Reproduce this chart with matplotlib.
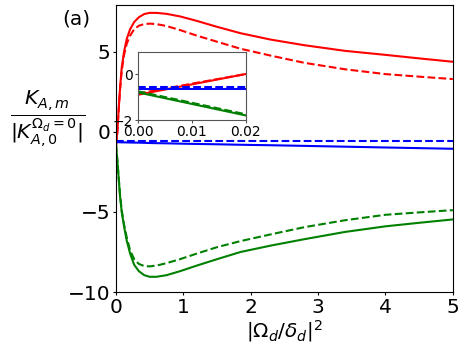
import matplotlib
matplotlib.use("Agg")
import matplotlib.pyplot as plt

# data
x = [0, 0.01, 0.02, 0.04, 0.06, 0.085, 0.12, 0.16, 0.21, 0.27, 0.34, 0.42, 0.5,
     0.6, 0.75, 0.95, 1.2, 1.5, 1.85, 2.3, 2.8, 3.4, 4.0, 4.5, 5.0]

red_solid = [-0.9, -0.45, 0.0, 1.4, 2.7, 4.0, 5.0, 5.8, 6.4, 6.85, 7.15, 7.35, 7.42,
             7.42, 7.36, 7.2, 6.92, 6.55, 6.15, 5.75, 5.4, 5.05, 4.8, 4.58, 4.37]
red_dash = [-0.85, -0.42, 0.0, 1.35, 2.6, 3.8, 4.8, 5.5, 6.0, 6.4, 6.62, 6.72, 6.75,
            6.72, 6.6, 6.35, 6.0, 5.62, 5.18, 4.75, 4.3, 3.9, 3.6, 3.44, 3.29]
blue_solid = [-0.65, -0.65, -0.65, -0.65, -0.655, -0.66, -0.66, -0.665, -0.67, -0.675,
              -0.68, -0.69, -0.70, -0.71, -0.72, -0.74, -0.76, -0.78, -0.81, -0.84,
              -0.88, -0.93, -0.98, -1.02, -1.06]
blue_dash = [-0.58] * len(x)
green_solid = [-0.8, -1.3, -1.8, -2.9, -4.0, -5.0, -5.9, -6.8, -7.6, -8.3, -8.7, -8.95,
               -9.05, -9.05, -8.95, -8.7, -8.35, -7.95, -7.5, -7.1, -6.7, -6.25, -5.9,
               -5.68, -5.47]
green_dash = [-0.75, -1.25, -1.75, -2.85, -3.9, -4.9, -5.8, -6.6, -7.4, -7.95, -8.25,
              -8.38, -8.4, -8.35, -8.2, -7.95, -7.6, -7.2, -6.82, -6.4, -5.95, -5.52,
              -5.18, -5.03, -4.89]

fig = plt.figure(figsize=(4.63, 3.46), dpi=100)
ax = fig.add_axes([0.2505, 0.156, 0.7275, 0.829])


def draw(a, lw=1.5):
    a.plot(x, red_solid, color="red", lw=lw)
    a.plot(x, red_dash, color="red", lw=lw, ls="--")
    a.plot(x, blue_solid, color="blue", lw=lw)
    a.plot(x, blue_dash, color="blue", lw=lw, ls="--")
    a.plot(x, green_solid, color="green", lw=lw)
    a.plot(x, green_dash, color="green", lw=lw, ls="--")


draw(ax)
ax.set_xlim(0, 5)
ax.set_ylim(-10, 7.9)
ax.set_xticks([0, 1, 2, 3, 4, 5])
ax.set_yticks([-10, -5, 0, 5])
ax.tick_params(labelsize=14.5, length=2.5, pad=1.5)
ax.set_xlabel(r"$|\Omega_d/\delta_d|^2$", fontsize=14.5, labelpad=1)
ax.set_ylabel(r"$\frac{K_{A,m}}{|K_{A,0}^{\Omega_d=0}|}$", fontsize=21,
              rotation=0, ha="center", va="center")
ax.yaxis.set_label_coords(-0.203, 0.604)
fig.text(0.135, 0.945, "(a)", fontsize=14.5, ha="left", va="center")

# inset zoom near the origin
ins = fig.add_axes([0.298, 0.653, 0.233, 0.197])
draw(ins)
ins.set_xlim(0, 0.02)
ins.set_ylim(-2, 0.96)
ins.set_xticks([0, 0.01, 0.02])
ins.set_xticklabels(["0.00", "0.01", "0.02"])
ins.set_yticks([-2, 0])
ins.tick_params(labelsize=10, pad=1, length=2.5, color="#555555")
for s in ins.spines.values():
    s.set_color("#555555")

fig.savefig("out.png", dpi=100)
